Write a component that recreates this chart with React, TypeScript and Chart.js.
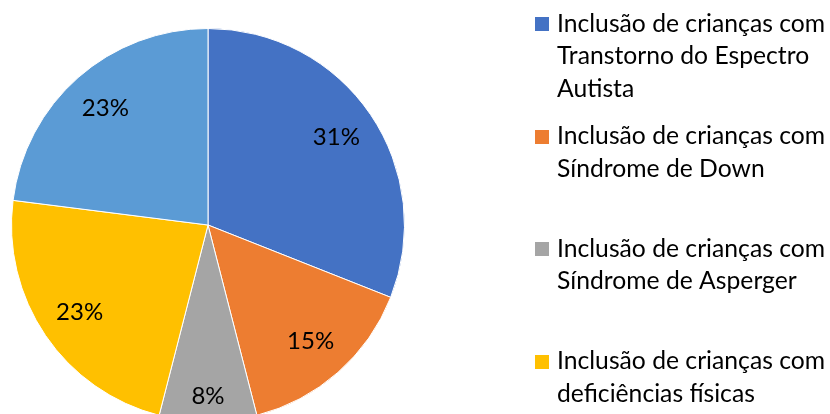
import React, { useEffect, useRef } from "react";
import { Chart, registerables } from "chart.js";

Chart.register(...registerables);

// Categories (legend labels, as wrapped lines)
const categories: string[][] = [
  ["Inclusão de crianças com", "Transtorno do Espectro", "Autista"],
  ["Inclusão de crianças com", "Síndrome de Down"],
  ["Inclusão de crianças com", "Síndrome de Asperger"],
  ["Inclusão de crianças com", "deficiências físicas"],
  ["Inclusão de crianças com", "deficiência intelectual"],
];

// Series values (percent)
const values: number[] = [31, 15, 8, 23, 23];

const colors: string[] = ["#4472C4", "#ED7D31", "#A5A5A5", "#FFC000", "#5B9BD5"];

const FONT = "Lato, 'Open Sans', sans-serif";

const pctLabelPlugin = {
  id: "pctLabels",
  afterDatasetsDraw(chart: any) {
    const ctx = chart.ctx;
    const meta = chart.getDatasetMeta(0);
    const data = chart.data.datasets[0].data as number[];
    const total = data.reduce((a, b) => a + b, 0);
    ctx.save();
    ctx.font = `24px ${FONT}`;
    ctx.fillStyle = "#000";
    ctx.textAlign = "center";
    ctx.textBaseline = "middle";
    meta.data.forEach((arc: any, i: number) => {
      const p = arc.getProps(["x", "y", "startAngle", "endAngle", "outerRadius"], true);
      const mid = (p.startAngle + p.endAngle) / 2;
      const frac = data[i] / total;
      const rf = frac < 0.1 ? 0.87 : 0.79;
      const r = p.outerRadius * rf;
      const x = p.x + Math.cos(mid) * r;
      const y = p.y + Math.sin(mid) * r;
      ctx.fillText(`${Math.round(frac * 100)}%`, x, y);
    });
    ctx.restore();
  },
};

const sideLegendPlugin = {
  id: "sideLegend",
  afterDraw(chart: any) {
    const ctx = chart.ctx;
    const labels = chart.data.labels as string[][];
    const bg = chart.data.datasets[0].backgroundColor as string[];
    ctx.save();
    ctx.font = `24.7px ${FONT}`;
    ctx.textAlign = "left";
    ctx.textBaseline = "alphabetic";
    labels.forEach((lines, i) => {
      const base = 31.7 + i * 112.5;
      ctx.fillStyle = bg[i];
      ctx.fillRect(535, Math.round(base - 14.5), 14, 14);
      ctx.fillStyle = "#000";
      lines.forEach((ln, j) => ctx.fillText(ln, 557, base + j * 32.5));
    });
    ctx.restore();
  },
};

export default function App() {
  const ref = useRef<HTMLCanvasElement | null>(null);
  useEffect(() => {
    if (!ref.current) return;
    const chart = new Chart(ref.current, {
      type: "pie",
      data: {
        labels: categories as any,
        datasets: [
          {
            data: values,
            backgroundColor: colors,
            borderColor: "#ffffff",
            borderWidth: 1,
          },
        ],
      },
      options: {
        responsive: false,
        animation: false,
        layout: { padding: { left: 11, top: 28, right: 425, bottom: 8 } },
        plugins: {
          legend: { display: false },
          tooltip: { enabled: false },
        },
      },
      plugins: [pctLabelPlugin, sideLegendPlugin],
    });
    return () => chart.destroy();
  }, []);
  return (
    <div
      style={{
        position: "fixed",
        left: 0,
        top: 0,
        width: 830,
        height: 414,
        overflow: "hidden",
        background: "#ffffff",
      }}
    >
      <canvas ref={ref} width={830} height={430} style={{ display: "block", width: 830, height: 430 }} />
    </div>
  );
}
